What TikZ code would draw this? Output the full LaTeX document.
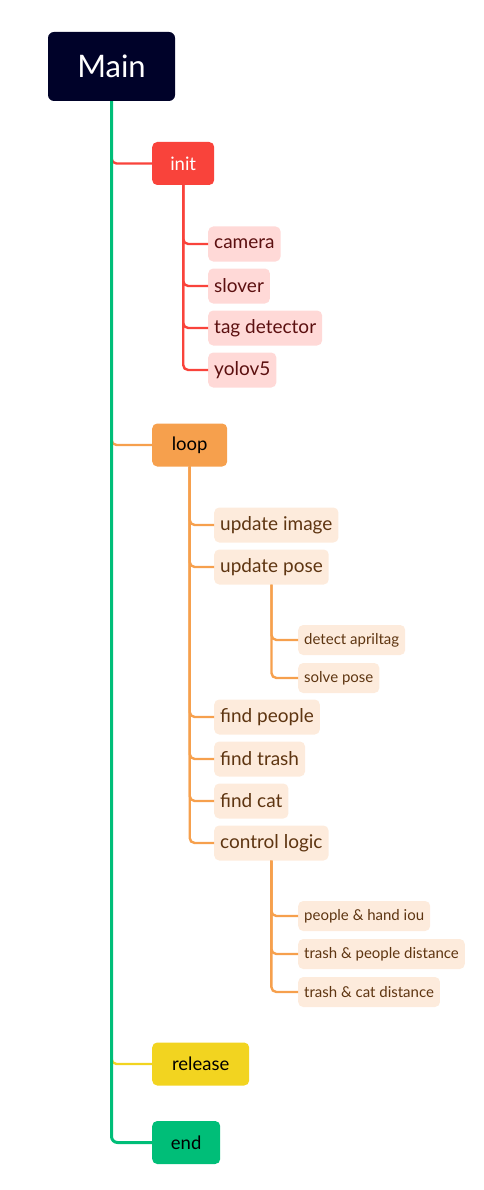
\documentclass[tikz,border=0pt]{standalone}
\usepackage{fontspec}
\setmainfont{Lato}
\definecolor{mainc}{HTML}{000229}
\definecolor{redc}{HTML}{F9433B}
\definecolor{redl}{HTML}{FFD9D7}
\definecolor{redt}{HTML}{5C1010}
\definecolor{orac}{HTML}{F6A04D}
\definecolor{oral}{HTML}{FDEBDC}
\definecolor{orat}{HTML}{5E3511}
\definecolor{yelc}{HTML}{F2D420}
\definecolor{grnc}{HTML}{00BE78}
\tikzset{
  x=1pt, y=-1pt,
  mainbox/.style={fill=mainc, rounded corners=6pt, minimum width=127pt, minimum height=69pt, text=white, font=\fontsize{31}{31}\selectfont, inner sep=0pt},
  topbox/.style={rounded corners=5pt, minimum height=43pt, inner xsep=0pt, inner ysep=0pt, font=\fontsize{18.5}{18.5}\selectfont, anchor=west},
  subbox/.style={rounded corners=5pt, minimum height=35pt, inner xsep=6pt, inner ysep=0pt, font=\fontsize{19}{19}\selectfont, anchor=west},
  smallbox/.style={rounded corners=5pt, minimum height=30pt, inner xsep=6pt, inner ysep=0pt, font=\fontsize{15}{15}\selectfont, anchor=west},
  redsub/.style={subbox, fill=redl, text=redt},
  orasub/.style={subbox, fill=oral, text=orat},
  orasmall/.style={smallbox, fill=oral, text=orat},
  link/.style={line width=2.4pt, rounded corners=5pt},
  trunk/.style={line width=3pt, rounded corners=6pt, draw=grnc},
}
\begin{document}
\begin{tikzpicture}
\useasboundingbox (0,0) rectangle (484,1190);
\node[mainbox] (main) at (111.5,66.5) {Main};
% level 1
\node[topbox, fill=redc, text=white, minimum width=62pt] (init) at (152,163.5) {init};
\node[topbox, fill=orac, text=black, minimum width=75pt] (loop) at (152,445) {loop};
\node[topbox, fill=yelc, text=black, minimum width=97pt] (release) at (152,1064) {release};
\node[topbox, fill=grnc, text=black, minimum width=68pt] (end) at (152,1142.5) {end};
% init children
\node[redsub] (camera) at (208,244) {camera};
\node[redsub] (slover) at (208,286) {slover};
\node[redsub] (tagdet) at (208,328) {tag detector};
\node[redsub] (yolo) at (208,370) {yolov5};
% loop children
\node[orasub] (updimg) at (214,525) {update image};
\node[orasub] (updpose) at (214,567) {update pose};
\node[orasmall] (detect) at (298,640) {detect apriltag};
\node[orasmall] (solve) at (298,678) {solve pose};
\node[orasub] (people) at (214,717) {find people};
\node[orasub] (trash) at (214,759) {find trash};
\node[orasub] (cat) at (214,801) {find cat};
\node[orasub] (ctrl) at (214,843) {control logic};
\node[orasmall] (phi) at (298,916) {people \& hand iou};
\node[orasmall] (tpd) at (298,954) {trash \& people distance};
\node[orasmall] (tcd) at (298,992) {trash \& cat distance};
% connectors
\draw[link, draw=redc] (main.south) |- (init.west);
\draw[link, draw=orac] (main.south) |- (loop.west);
\draw[link, draw=yelc] (main.south) |- (release.west);
\draw[trunk] (main.south) |- (end.west);
\foreach \c in {camera, slover, tagdet, yolo}
  \draw[link, draw=redc] (init.south) |- (\c.west);
\foreach \c in {updimg, updpose, people, trash, cat, ctrl}
  \draw[link, draw=orac] (loop.south) |- (\c.west);
\foreach \c in {detect, solve}
  \draw[link, draw=orac] (updpose.south) |- (\c.west);
\foreach \c in {phi, tpd, tcd}
  \draw[link, draw=orac] (ctrl.south) |- (\c.west);
\end{tikzpicture}
\end{document}
